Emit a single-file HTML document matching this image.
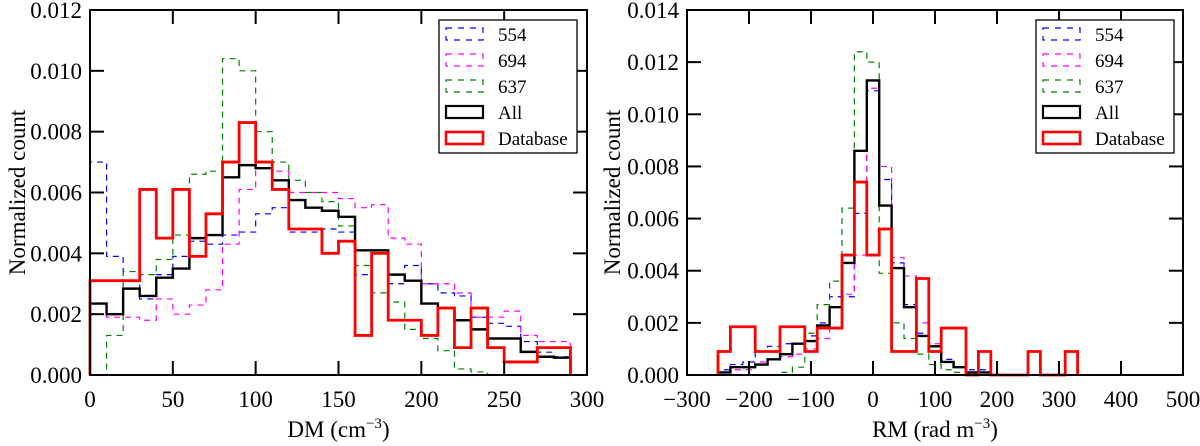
<!DOCTYPE html>
<html><head><meta charset="utf-8"><style>
html,body{margin:0;padding:0;background:#fff}
svg{display:block}
text{font-family:"Liberation Serif",serif;fill:#000}
</style></head><body>
<svg id="c" width="1200" height="446" viewBox="0 0 1200 446"></svg>
<script>
// DM panel data (bins 0..290 step 10)
const dmStart = 0, dmStep = 10;
const dmBlack = [0.00235,0.0020,0.00284,0.0026,0.0032,0.0035,0.0045,0.0046,0.0065,0.0069,0.0068,0.0064,0.00575,0.0055,0.0054,0.0052,0.0041,0.0041,0.0033,0.0031,0.00235,0.0022,0.0018,0.0015,0.0012,0.0012,0.00076,0.0006,0.00057];
const dmRed = [0.0031,0.0031,0.0031,0.0061,0.0045,0.0061,0.0039,0.0053,0.0070,0.0083,0.0070,0.0061,0.0048,0.0048,0.0040,0.0044,0.0013,0.0040,0.0018,0.0018,0.0013,0.0022,0.0009,0.0022,0.0009,0.00043,0.00043,0.0009,0.0009];
const dmBlue = [0.0070,0.0039,0.0031,0.0025,0.0033,0.0039,0.0044,0.0043,0.0046,0.0047,0.0053,0.0055,0.0047,0.0047,0.0048,0.0047,0.0033,0.0040,0.0030,0.0036,0.0030,0.0027,0.0026,0.0019,0.0017,0.0016,0.0011,0.00075,0.0006];
const dmMagenta = [0.0020,0.0019,0.0019,0.0018,0.0025,0.0020,0.0023,0.0028,0.0043,0.0061,0.0070,0.0067,0.0060,0.0060,0.0060,0.0058,0.0055,0.0056,0.0045,0.0043,0.0030,0.0030,0.0027,0.0019,0.0019,0.0021,0.0013,0.0011,0.0011];
const dmGreen = [0,0.0013,0.0034,0.0033,0.0038,0.0046,0.0066,0.0067,0.0104,0.0100,0.0080,0.0070,0.0064,0.0060,0.0057,0.0049,0.0036,0.0027,0.0024,0.0015,0.0012,0.0008,0.0002,0.0001,0,0,0,0,0];
const dmXTicks = [0,50,100,150,200,250,300];
const dmYTicks = ["0.000","0.002","0.004","0.006","0.008","0.010","0.012"];
// RM panel data (bins start -250 step 20)
const rmStart = -250, rmStep = 20;
const rmBlack = [0.0001,0.0003,0.0003,0.0004,0.0006,0.0008,0.0012,0.0013,0.0019,0.0026,0.0043,0.0086,0.0113,0.0065,0.0041,0.0026,0.0015,0.0011,0.0005,0.0003,0.0001,0.0001];
const rmRed = [0.0009,0.00185,0.00185,0.0009,0.0009,0.00185,0.00185,0.0009,0.0018,0.0018,0.0046,0.0074,0.0046,0.0056,0.0009,0.0009,0.0037,0.0009,0.0018,0.0018,0,0.0009,0,0,0,0.0009,0,0,0.0009];
const rmBlue = [0.0002,0.0004,0.0005,0.0009,0.0011,0.0012,0.0012,0.0015,0.0020,0.0030,0.0030,0.0062,0.0109,0.0075,0.0043,0.0027,0.0016,0.0009,0.0006,0.0003,0.0002,0.0002];
const rmMagenta = [0.0001,0.0002,0.0002,0.0005,0.0006,0.0007,0.0008,0.0010,0.0014,0.0018,0.0031,0.0046,0.0110,0.0080,0.0045,0.0038,0.0020,0.0012,0.0005,0.0003,0.0001,0.0001];
const rmGreen = [0,0,0,0,0,0.0001,0.0003,0.0016,0.0027,0.0036,0.0064,0.0124,0.0120,0.0039,0.0020,0.0014,0.0008,0.0004,0.0002,0.0001,0,0];
const rmXTicks = [-300,-200,-100,0,100,200,300,400,500];
const rmYTicks = ["0.000","0.002","0.004","0.006","0.008","0.010","0.012","0.014"];

const NS = "http://www.w3.org/2000/svg";
const svg = document.getElementById('c');
function mk(tag, attrs, parent){const e=document.createElementNS(NS,tag);for(const k in attrs)e.setAttribute(k,attrs[k]);(parent||svg).appendChild(e);return e;}

function panel(p){
  const g = mk('g',{});
  
  
  const x = v => p.x0 + (v - p.xmin)/(p.xmax - p.xmin)*(p.x1 - p.x0);
  const y = v => p.y0 - v/p.ymax*(p.y0 - p.y1);
  // series
  p.series.forEach(s=>{
    let d = `M${x(s.start)},${y(0)}`;
    s.vals.forEach((v,i)=>{
      const a = s.start + i*s.step, b = a + s.step;
      d += ` L${x(a)},${y(v)} L${x(b)},${y(v)}`;
    });
    d += ` L${x(s.start + s.vals.length*s.step)},${y(0)}`;
    const path = mk('path',{d:d,fill:'none',stroke:s.color,'stroke-width':s.w,'stroke-dasharray':s.dash||'none','stroke-linejoin':'miter'},g);
    
    
  });
  // frame
  const fr = mk('rect',{x:p.x0,y:p.y1,width:p.x1-p.x0,height:p.y0-p.y1,fill:'none',stroke:'#000','stroke-width':2},g);
  
  
  // x ticks
  p.xticks.forEach(t=>{
    const xx = x(t);
    mk('line',{x1:xx,x2:xx,y1:p.y0,y2:p.y0-14,stroke:'#000','stroke-width':2},g);
    mk('line',{x1:xx,x2:xx,y1:p.y1,y2:p.y1+14,stroke:'#000','stroke-width':2},g);
    const tl = mk('text',{x:xx,y:p.y0+32,'text-anchor':'middle','font-size':23},g);
    tl.textContent = t < 0 ? '\u2212'+Math.abs(t) : String(t);
    
    
  });
  p.yticks.forEach(t=>{
    const yy = y(parseFloat(t));
    mk('line',{x1:p.x0,x2:p.x0+14,y1:yy,y2:yy,stroke:'#000','stroke-width':2},g);
    mk('line',{x1:p.x1,x2:p.x1-14,y1:yy,y2:yy,stroke:'#000','stroke-width':2},g);
    const tl = mk('text',{x:p.x0-8,y:yy+8,'text-anchor':'end','font-size':23},g);
    tl.textContent = t;
    
    
  });
  const xl = mk('text',{x:(p.x0+p.x1)/2,y:437,'text-anchor':'middle','font-size':23},g);
  xl.innerHTML = p.xlabel;
  
  
  const yl = mk('text',{x:0,y:0,'text-anchor':'middle','font-size':23,transform:`translate(${p.ylx},${(p.y0+p.y1)/2}) rotate(-90)`},g);
  yl.textContent = 'Normalized count';
  
  
  // legend
  const lg = mk('g',{},g);
  
  
  mk('rect',{x:p.lx,y:20,width:138,height:133,fill:'#fff',stroke:'#000','stroke-width':1.3},lg);
  const items=[['554','#0000ff','6,6',1.2],['694','#ff00ff','6,6',1.2],['637','#008000','6,6',1.2],['All','#000','none',2.2],['Database','#ff0000','none',2.6]];
  items.forEach((it,i)=>{
    const cy = 34 + i*26;
    const e = mk('g',{},lg);
    
    
    mk('rect',{x:p.lx+7,y:cy-6,width:37,height:12,fill:'none',stroke:it[1],'stroke-width':it[3],'stroke-dasharray':it[2]},e);
    const t = mk('text',{x:p.lx+59,y:cy+7,'font-size':19},e);
    t.textContent = it[0];
  });
}

panel({name:'dm-panel',x0:90,x1:587,y0:375,y1:10,xmin:0,xmax:300,ymax:0.012,
  xticks:dmXTicks,yticks:dmYTicks,xlabel:'DM (cm<tspan dy="-9" font-size="15">\u22123</tspan><tspan dy="9">)</tspan>',ylx:25,lx:439,
  series:[
    {label:'series-554',vals:dmBlue,start:dmStart,step:dmStep,color:'#0000ff',w:1.2,dash:'6,5'},
    {label:'series-694',vals:dmMagenta,start:dmStart,step:dmStep,color:'#ff00ff',w:1.2,dash:'6,5'},
    {label:'series-637',vals:dmGreen,start:dmStart,step:dmStep,color:'#008000',w:1.2,dash:'6,5'},
    {label:'series-all',vals:dmBlack,start:dmStart,step:dmStep,color:'#000',w:2.4},
    {label:'series-database',vals:dmRed,start:dmStart,step:dmStep,color:'#ff0000',w:2.8}
  ]});
panel({name:'rm-panel',x0:687,x1:1183,y0:375,y1:10,xmin:-300,xmax:500,ymax:0.014,
  xticks:rmXTicks,yticks:rmYTicks,xlabel:'RM (rad m<tspan dy="-9" font-size="15">\u22123</tspan><tspan dy="9">)</tspan>',ylx:620,lx:1036,
  series:[
    {label:'series-554',vals:rmBlue,start:rmStart,step:rmStep,color:'#0000ff',w:1.2,dash:'6,5'},
    {label:'series-694',vals:rmMagenta,start:rmStart,step:rmStep,color:'#ff00ff',w:1.2,dash:'6,5'},
    {label:'series-637',vals:rmGreen,start:rmStart,step:rmStep,color:'#008000',w:1.2,dash:'6,5'},
    {label:'series-all',vals:rmBlack,start:rmStart,step:rmStep,color:'#000',w:2.4},
    {label:'series-database',vals:rmRed,start:rmStart,step:rmStep,color:'#ff0000',w:2.8}
  ]});
</script>
</body></html>
